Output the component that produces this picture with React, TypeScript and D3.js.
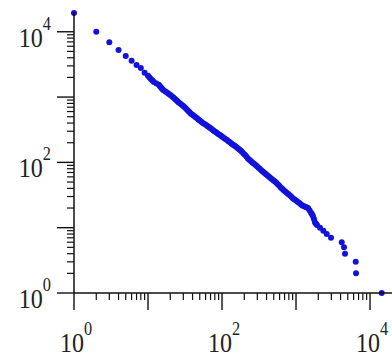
import React, { useMemo } from 'react';
import * as d3 from 'd3';

// rank / count pairs
const ranks = [
  1, 2, 3, 4, 5, 6, 7, 8, 9, 10,
  10.5, 11, 11.5, 12, 13, 14, 14.5, 15, 15.5, 16,
  17, 18, 19, 20, 21, 22, 23, 24, 25, 26,
  27.5, 29, 30.5, 32, 33.5, 35, 36.5, 38, 40, 42,
  44, 46, 48, 50, 52.5, 55, 58, 61, 64, 67,
  70, 73, 76.5, 80, 84, 88, 92.5, 97, 101, 106,
  111, 117, 122, 128, 134, 141, 148, 155, 162, 170,
  178, 186, 195, 205, 215, 225, 236, 247, 259, 271,
  284, 297, 311, 326, 342, 358, 375, 393, 412, 432,
  452, 474, 497, 520, 545, 571, 598, 627, 657, 688,
  721, 756, 792, 830, 870, 911, 955, 1000, 1048, 1098,
  1150, 1205, 1263, 1323, 1387, 1453, 1522, 1595, 1645, 1697,
  1750, 1806, 1863, 1922, 2110, 2338, 2600, 2972, 4146, 4453,
  4595, 6411, 6470, 14390,
];

const counts = [
  19400, 10030, 6905, 5262, 4260, 3608, 3102, 2780, 2348, 2127,
  1997, 1874, 1787, 1703, 1614, 1538, 1469, 1403, 1342, 1284,
  1229, 1176, 1125, 1077, 1029, 982, 940, 900, 861, 824,
  787, 752, 716, 681, 646, 613, 584, 557, 535, 514,
  493, 474, 455, 437, 418, 401, 387, 373, 359, 346,
  333, 321, 309, 297, 286, 275, 265, 255, 246, 237,
  228, 220, 211, 203, 195, 187, 180, 173, 166, 159,
  152, 145, 137, 130, 122, 114, 109, 104, 99, 95,
  91, 87, 83, 79, 75, 72, 69, 66, 63, 60,
  57.5, 55, 53, 51, 48.5, 46, 43.5, 41, 39, 37,
  35.5, 34, 32.5, 31, 29.5, 28, 27, 26, 25, 24,
  23, 22, 21.5, 21, 20.5, 20, 18.5, 17, 16, 15,
  13.5, 12, 11.5, 11, 10, 9, 8, 7, 6, 5,
  4, 3, 2, 1,
];

const majorTicks = [1, 10, 100, 1000, 10000];
const labelledExponents = [0, 2, 4];
const axisDomain: [number, number] = [1, 20000];

const WIDTH = 392;
const HEIGHT = 358;
const FONT = '"Liberation Serif", "Times New Roman", serif';

const App: React.FC = () => {
  const scales = useMemo(() => {
    const xScale = d3.scaleLog().domain(axisDomain).range([74, 392.3]);
    const yScale = d3.scaleLog().domain(axisDomain).range([293, 12.1]);
    return { xScale, yScale };
  }, []);

  const { xScale, yScale } = scales;

  // minor ticks 2..9 in every decade below 10^4
  const minorTicks = useMemo(() => {
    const out: number[] = [];
    majorTicks.slice(0, 4).forEach(base => {
      for (let m = 2; m <= 9; m++) out.push(base * m);
    });
    return out;
  }, []);

  const x0 = xScale(1);
  const y0 = yScale(1);
  const points = d3.zip(ranks, counts);

  return (
    <svg
      width={WIDTH}
      height={HEIGHT}
      style={{ position: 'absolute', left: 0, top: 0, background: '#fff' }}
    >
      {/* Data points */}
      {points.map(([r, c], i) => (
        <circle key={`pt-${i}`} cx={xScale(r)} cy={yScale(c)} r={3} fill="#1212dc" />
      ))}

      {/* X-axis */}
      <line x1={x0} x2={WIDTH} y1={y0} y2={y0} stroke="#111" strokeWidth={1.5} />
      {majorTicks.map(t => (
        <line key={`xM-${t}`} x1={xScale(t)} x2={xScale(t)} y1={y0} y2={y0 + 17} stroke="#111" strokeWidth={1.4} />
      ))}
      {minorTicks.map(t => (
        <line key={`xm-${t}`} x1={xScale(t)} x2={xScale(t)} y1={y0} y2={y0 + 7} stroke="#111" strokeWidth={1.2} />
      ))}
      {labelledExponents.map(e => (
        <text
          key={`xl-${e}`}
          transform={`translate(${xScale(Math.pow(10, e)) + 2}, 351.5) scale(0.86, 1)`}
          textAnchor="middle"
          fontFamily={FONT}
          fontSize={28}
          fill="#222"
        >
          10<tspan dy={-17} fontSize={19}>{e}</tspan>
        </text>
      ))}

      {/* Y-axis */}
      <line x1={x0} x2={x0} y1={yScale(axisDomain[1])} y2={y0} stroke="#111" strokeWidth={1.5} />
      {majorTicks.map(t => (
        <line key={`yM-${t}`} x1={x0 - 17} x2={x0} y1={yScale(t)} y2={yScale(t)} stroke="#111" strokeWidth={1.4} />
      ))}
      {minorTicks.map(t => (
        <line key={`ym-${t}`} x1={x0 - 7} x2={x0} y1={yScale(t)} y2={yScale(t)} stroke="#111" strokeWidth={1.2} />
      ))}
      {labelledExponents.map(e => (
        <text
          key={`yl-${e}`}
          transform={`translate(51, ${yScale(Math.pow(10, e)) + 15}) scale(0.86, 1)`}
          textAnchor="end"
          fontFamily={FONT}
          fontSize={28}
          fill="#222"
        >
          10<tspan dy={-17} fontSize={19}>{e}</tspan>
        </text>
      ))}
    </svg>
  );
};

export default App;
